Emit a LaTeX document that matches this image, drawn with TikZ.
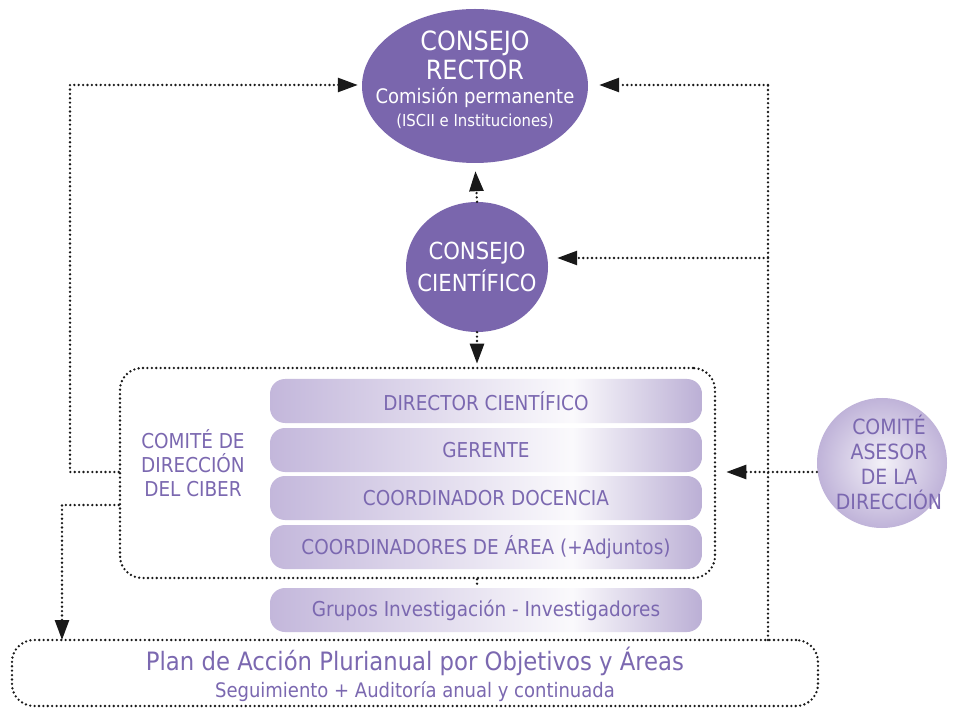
\documentclass[tikz,border=0pt]{standalone}
\usepackage{fontspec}
\setmainfont{DejaVu Sans Condensed}
\usetikzlibrary{shapes.geometric,arrows.meta}
\definecolor{cpurple}{HTML}{7A66AD}
\definecolor{ctext}{HTML}{7B68B0}
\definecolor{cbar}{HTML}{C3B7DB}
\definecolor{cbarR}{HTML}{BBAFD5}
\pgfdeclarehorizontalshading{barshade}{100bp}{color(0bp)=(cbar); color(25bp)=(cbar); color(44bp)=(cbar!50!white); color(60bp)=(white!92!cbar); color(75bp)=(cbarR); color(100bp)=(cbarR)}
\newcommand{\fsz}[2]{\fontsize{#1}{#2}\selectfont}
\tikzset{
  dots/.style={line width=2.6pt, dash pattern=on 0pt off 4.4pt, line cap=round, draw=black!90},
  arr/.style={-{Triangle[length=20pt,width=14pt]}},
  bar/.style={shade, shading=barshade, rounded corners=15pt, minimum width=432pt,
    minimum height=44pt, inner sep=0pt, text=ctext, font=\fsz{20.5}{24}},
  wtext/.style={text=white, inner sep=0pt, anchor=base},
  ptext/.style={text=ctext, inner sep=0pt, align=center}
}
\begin{document}
\begin{tikzpicture}[x=1pt,y=-1pt]
\useasboundingbox[fill=white] (0,0) rectangle (961,708);

% Consejo Rector
\node[ellipse, fill=cpurple, minimum width=226pt, minimum height=154pt, inner sep=0pt] (cr) at (475,86) {};
\node[wtext, font=\fsz{26.5}{30}] (cr1) at (475,51) {CONSEJO};
\node[wtext, font=\fsz{26.5}{30}] (cr2) at (475,80) {RECTOR};
\node[wtext, font=\fsz{20}{24}] (cr3) at (475,104) {Comisión permanente};
\node[wtext, font=\fsz{16.5}{20}] (cr4) at (475,127) {(ISCII e Instituciones)};

% Consejo Cientifico
\node[ellipse, fill=cpurple, minimum width=142pt, minimum height=130pt, inner sep=0pt] (cc) at (477,267) {};
\node[wtext, font=\fsz{23.5}{28}] (cc1) at (477,260) {CONSEJO};
\node[wtext, font=\fsz{23.5}{28}] (cc2) at (477,292) {CIENTÍFICO};

% Comite de direccion
\node[draw, dots, rounded corners=22pt, minimum width=595pt, minimum height=210pt, inner sep=0pt] (cd) at (417.5,473) {};
\node[ptext, font=\fsz{20.5}{24}] (cdl) at (193,463) {COMITÉ DE\\DIRECCIÓN\\DEL CIBER};

\node[bar] (b1) at (486,401) {DIRECTOR CIENTÍFICO};
\node[bar] (b2) at (486,450) {GERENTE};
\node[bar] (b3) at (486,498) {COORDINADOR DOCENCIA};
\node[bar] (b4) at (486,547) {COORDINADORES DE ÁREA (+Adjuntos)};
\node[bar] (gi) at (486,610) {Grupos Investigación - Investigadores};

% Comite asesor
\node[circle, shade, inner color=white!80!cbar, outer color=cbar!95!cpurple, minimum size=130pt, inner sep=0pt] (ca) at (882,463) {};
\node[ptext, font=\fsz{21}{25}] (cal) at (889,462) {COMITÉ\\ASESOR\\DE LA\\DIRECCIÓN};

% Plan de accion
\node[draw, dots, rounded corners=22pt, minimum width=806pt, minimum height=66pt, inner sep=0pt] (pa) at (415,673) {};
\node[text=ctext, inner sep=0pt, anchor=base, font=\fsz{25.3}{28}] (pa1) at (415,670) {Plan de Acción Plurianual por Objetivos y Áreas};
\node[text=ctext, inner sep=0pt, anchor=base, font=\fsz{20}{24}] (pa2) at (415,697) {Seguimiento + Auditoría anual y continuada};

% connectors
\coordinate (l1) at (70,472);
\coordinate (l2) at (70,85);
\coordinate (d1) at (62,505);
\coordinate (d2) at (62,640);
\coordinate (r1) at (768,85);
\coordinate (r2) at (768,258);
\coordinate (r3) at (768,640);

\draw[dots, arr, shorten >=8pt] (cc.north) -- (cr.south);
\draw[dots, arr, shorten >=3pt] (cc.south) -- (cc.south |- cd.north);
\draw[dots, arr, shorten >=4pt] (cd.west |- l1) -- (l1) -- (l2) -- (cr.west |- l2);
\draw[dots, arr] (cd.west |- d1) -- (d1) -- (d2);
\draw[dots] (r3) -- (r1);
\draw[dots, arr, shorten >=11pt] (r1) -- (cr.east |- r1);
\draw[dots, arr, shorten >=9pt] (r2) -- (cc.east |- r2);
\draw[dots, arr, shorten >=10pt] ([yshift=-9pt]ca.west) -- ([yshift=-9pt]ca.west -| cd.east);
\draw[dots] (cc.south |- cd.south) -- (cc.south |- gi.north);
\end{tikzpicture}
\end{document}
